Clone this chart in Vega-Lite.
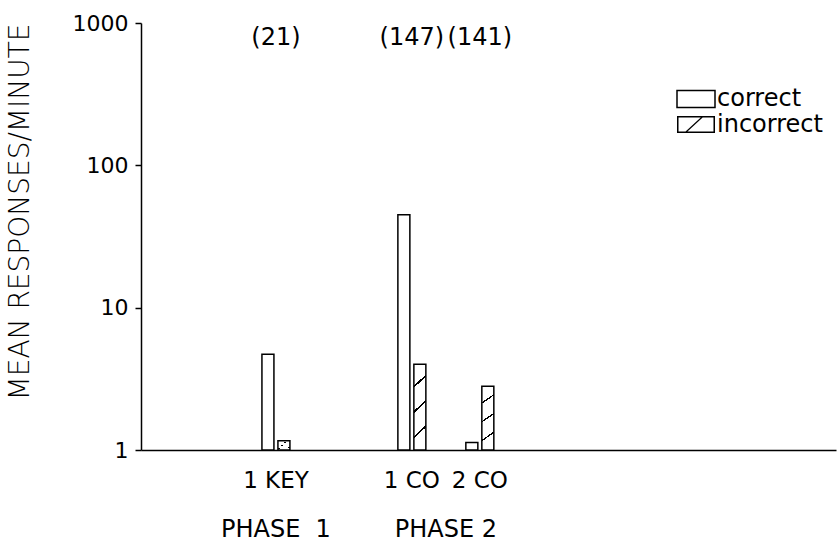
{
  "$schema": "https://vega.github.io/schema/vega-lite/v6.json",
  "width": 695,
  "height": 427,
  "autosize": {"type": "none"},
  "padding": {"left": 141, "top": 23, "right": 2, "bottom": 96},
  "background": "white",
  "config": {
    "view": {"stroke": null},
    "font": "DejaVu Sans",
    "text": {"font": "DejaVu Sans", "color": "black"},
    "legend": {"padding": 0, "labelFont": "DejaVu Sans", "labelFontSize": 24, "labelColor": "black", "labelOffset": 9, "symbolType": "M-2,-0.9H2V0.9H-2Z", "symbolSize": 361, "symbolStrokeColor": "black", "symbolStrokeWidth": 1.5}
  },
  "datasets": {
    "bars": [
      {"condition": "1 KEY", "response": "correct", "rate": 4.7},
      {"condition": "1 KEY", "response": "incorrect", "rate": 1.16},
      {"condition": "1 CO", "response": "correct", "rate": 45},
      {"condition": "1 CO", "response": "incorrect", "rate": 4.0},
      {"condition": "2 CO", "response": "correct", "rate": 1.13},
      {"condition": "2 CO", "response": "incorrect", "rate": 2.8}
    ],
    "counts": [
      {"condition": "1 KEY", "label": "(21)"},
      {"condition": "1 CO", "label": "(147)"},
      {"condition": "2 CO", "label": "(141)"}
    ],
    "phase1": [{"condition": "1 KEY", "phase": "PHASE\u00a0\u00a01"}],
    "phase2": [{"condition": "1 CO", "phase": "PHASE 2"}]
  },
  "layer": [
    {
      "data": {"name": "bars"},
      "encoding": {
        "x": {
          "field": "condition",
          "type": "nominal",
          "scale": {"domain": [" ", "1 KEY", "  ", "1 CO", "2 CO", "   ", "    ", "     ", "      "], "paddingInner": 0, "paddingOuter": 0.6125, "align": 0.396},
          "axis": {"title": null, "labelAngle": 0, "ticks": false, "domainColor": "black", "domainWidth": 1.5, "labelFont": "DejaVu Sans", "labelFontSize": 23, "labelColor": "black", "labelPadding": 19, "grid": false, "labelOverlap": false}
        },
        "xOffset": {
          "field": "response",
          "type": "nominal",
          "scale": {"domain": ["a", "correct", "incorrect", "b"], "paddingInner": 0.25, "paddingOuter": 0.25}
        },
        "y": {
          "field": "rate",
          "type": "quantitative",
          "scale": {"type": "log", "domain": [1, 1000], "nice": false},
          "axis": {"title": "MEAN RESPONSES/MINUTE", "titleAnchor": "end", "titleFont": "DejaVu Sans", "titleFontSize": 28, "titleFontWeight": 200, "titleColor": "black", "titlePadding": 38, "values": [1, 10, 100, 1000], "format": "d", "tickSize": 6, "tickColor": "black", "tickWidth": 1.5, "domainColor": "black", "domainWidth": 1.5, "labelFont": "DejaVu Sans", "labelFontSize": 22, "labelColor": "black", "labelPadding": 7, "grid": false}
        },
        "y2": {"datum": 1}
      },
      "layer": [
        {
          "transform": [{"filter": {"field": "response", "equal": "correct"}}],
          "mark": {"type": "bar", "fill": "white", "stroke": "black", "strokeWidth": 1.5},
          "encoding": {
            "stroke": {
              "field": "response",
              "type": "nominal",
              "scale": {"domain": ["correct"], "range": ["black"]},
              "legend": {"title": null, "orient": "none", "legendX": 543, "legendY": 64}
            }
          }
        },
        {
          "transform": [{"filter": {"field": "response", "equal": "incorrect"}}],
          "mark": {
            "type": "bar",
            "stroke": "black",
            "strokeWidth": 1.5,
            "fill": {"gradient": "linear", "x1": 0.13, "y1": 1, "x2": 0, "y2": 0, "stops": [
              {"offset": 0, "color": "white"},
              {"offset": 0.15, "color": "white"},
              {"offset": 0.15, "color": "black"},
              {"offset": 0.175, "color": "black"},
              {"offset": 0.175, "color": "white"},
              {"offset": 0.44, "color": "white"},
              {"offset": 0.44, "color": "black"},
              {"offset": 0.465, "color": "black"},
              {"offset": 0.465, "color": "white"},
              {"offset": 0.73, "color": "white"},
              {"offset": 0.73, "color": "black"},
              {"offset": 0.755, "color": "black"},
              {"offset": 0.755, "color": "white"},
              {"offset": 1, "color": "white"}
            ]}
          }
        },
        {
          "transform": [{"filter": {"field": "response", "equal": "legend only"}}],
          "mark": {"type": "bar", "fill": "black", "stroke": "black", "strokeWidth": 1.5},
          "encoding": {
            "opacity": {
              "field": "response",
              "type": "nominal",
              "scale": {"domain": ["incorrect"], "range": [1]},
              "legend": {
                "title": null,
                "orient": "none",
                "legendX": 543,
                "legendY": 89.5,
                "symbolType": "M-2,-0.9H2V0.9H-2Z M-1.84,-0.74V0.74H1.84V-0.74Z M-1.1,0.74L-0.9,0.74L0.7,-0.74L0.5,-0.74Z"
              }
            }
          }
        }
      ]
    },
    {
      "data": {"name": "counts"},
      "mark": {"type": "text", "fontSize": 24, "baseline": "alphabetic", "dy": 22},
      "encoding": {
        "x": {"field": "condition", "type": "nominal"},
        "y": {"datum": 1000, "type": "quantitative"},
        "text": {"field": "label", "type": "nominal"}
      }
    },
    {
      "data": {"name": "phase1"},
      "mark": {"type": "text", "fontSize": 24, "baseline": "alphabetic", "dy": 87},
      "encoding": {
        "x": {"field": "condition", "type": "nominal"},
        "y": {"datum": 1, "type": "quantitative"},
        "text": {"field": "phase", "type": "nominal"}
      }
    },
    {
      "data": {"name": "phase2"},
      "mark": {"type": "text", "fontSize": 24, "baseline": "alphabetic", "dy": 87},
      "encoding": {
        "x": {"field": "condition", "type": "nominal", "bandPosition": 1},
        "y": {"datum": 1, "type": "quantitative"},
        "text": {"field": "phase", "type": "nominal"}
      }
    }
  ]
}
